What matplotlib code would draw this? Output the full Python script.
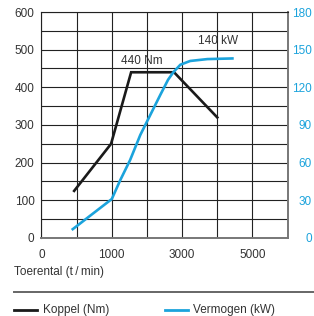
import numpy as np
import matplotlib
matplotlib.use("Agg")
import matplotlib.pyplot as plt

plt.rcParams['font.family'] = ['Liberation Sans', 'DejaVu Sans']

# x in grid cells (labels 0, 1000, 3000, 5000 sit on cells 0, 2, 4, 6)
koppel_x = [0.93, 1.98, 2.55, 3.77, 5.0]
koppel_nm = [125, 250, 440, 440, 320]

verm_x = [0.89, 2.0, 2.24, 2.52, 2.81, 3.38, 3.6, 3.75, 3.95, 4.23, 4.72, 5.43]
verm_kw = [7, 31, 46, 62, 82, 114, 126, 132, 138, 141, 142.5, 143]

x_ticks = [0, 2, 4, 6]
x_labels = ["0", "1000", "3000", "5000"]
left_ticks = [0, 100, 200, 300, 400, 500, 600]
right_ticks = [0, 30, 60, 90, 120, 150, 180]

txt = '#333333'
blue = '#1ba3dc'

fig = plt.figure(figsize=(3.14, 3.16), dpi=100)
ax = fig.add_axes([0.132, 0.247, 0.784, 0.715])

ax.set_xlim(0, 7)
ax.set_ylim(0, 600)
ax.set_xticks(x_ticks)
ax.set_xticklabels(x_labels)
ax.set_xticks(np.arange(0, 8, 1), minor=True)
ax.set_yticks(left_ticks)
ax.set_yticks(np.arange(0, 650, 50), minor=True)
ax.grid(True, which='both', color='#222222', linewidth=0.8)
ax.tick_params(which='both', length=0, labelsize=8.5, colors=txt)
ax.tick_params(axis='x', pad=8)
ax.tick_params(axis='y', pad=5)
for s in ['left', 'top']:
    ax.spines[s].set_color('#222222')
    ax.spines[s].set_linewidth(0.8)
for s in ['right', 'bottom']:
    ax.spines[s].set_color('#777777')
    ax.spines[s].set_linewidth(1.4)

ax.plot(koppel_x, koppel_nm, color='#1a1a1a', linewidth=1.9, solid_joinstyle='miter', zorder=3)

ax2 = ax.twinx()
ax2.set_ylim(0, 180)
ax2.set_yticks(right_ticks)
ax2.tick_params(length=0, labelsize=8.5, colors=blue, pad=17.5)
for lab in ax2.get_yticklabels():
    lab.set_horizontalalignment('right')
for s in ax2.spines.values():
    s.set_visible(False)
ax2.plot(verm_x, verm_kw, color=blue, linewidth=1.9, zorder=3)

ax.text(2.86, 470, "440 Nm", ha='center', va='center', fontsize=8.5, color=txt)
ax.text(5.01, 523, "140 kW", ha='center', va='center', fontsize=8.5, color=txt)

fig.text(14/314, 1 - 272/316, "Toerental (t\u2009/\u2009min)", ha='left', va='center',
         fontsize=8.5, color=txt)

# separator and legend
fig.add_artist(plt.Line2D([14/314, 1.0], [1 - 292/316] * 2, color='#666666', linewidth=1.4))
fig.add_artist(plt.Line2D([14/314, 37/314], [1 - 310/316] * 2, color='#1a1a1a', linewidth=2))
fig.text(43/314, 1 - 310/316, "Koppel (Nm)", ha='left', va='center', fontsize=8.5, color=txt)
fig.add_artist(plt.Line2D([165/314, 188/314], [1 - 310/316] * 2, color=blue, linewidth=2))
fig.text(193/314, 1 - 310/316, "Vermogen (kW)", ha='left', va='center', fontsize=8.5, color=txt)

fig.savefig("out.png", dpi=100)
